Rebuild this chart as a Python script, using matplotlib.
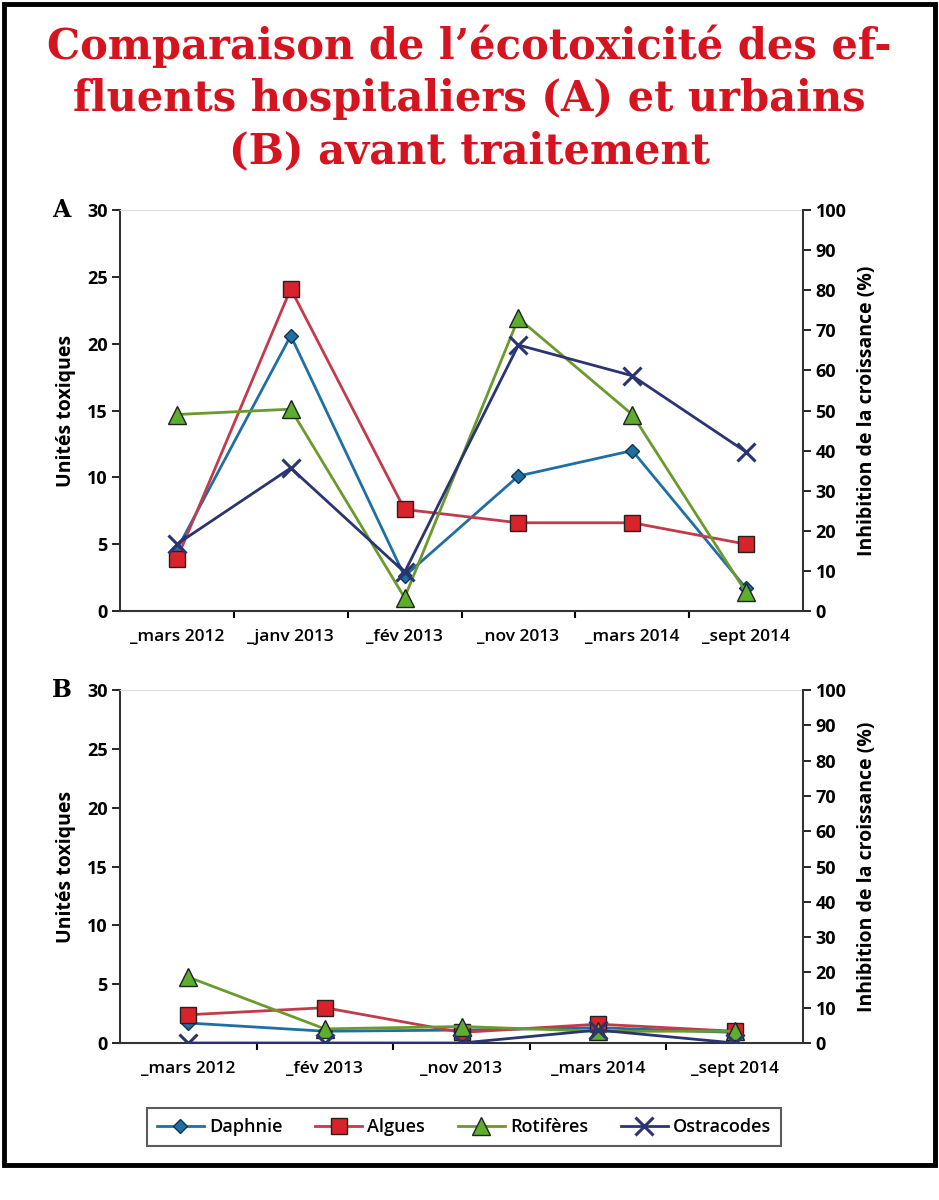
import numpy as np
import matplotlib.pyplot as plt
from matplotlib.patches import Rectangle

# categories
cats_a = ['_mars 2012', '_janv 2013', '_fév 2013', '_nov 2013', '_mars 2014', '_sept 2014']
cats_b = ['_mars 2012', '_fév 2013', '_nov 2013', '_mars 2014', '_sept 2014']

# (A) effluents hospitaliers - unités toxiques
daphnie_a = [4.6, 20.6, 2.6, 10.1, 12.0, 1.7]
algues_a = [3.9, 24.1, 7.6, 6.6, 6.6, 5.0]
rotiferes_a = [14.7, 15.1, 1.0, 21.9, 14.7, 1.4]
ostracodes_a = [5.0, 10.7, 2.9, 19.9, 17.6, 11.9]

# (B) effluents urbains
daphnie_b = [1.7, 1.0, 1.1, 1.3, 0.9]
algues_b = [2.4, 3.0, 0.9, 1.6, 1.0]
rotiferes_b = [5.6, 1.2, 1.4, 1.0, 1.0]
ostracodes_b = [0.0, 0.0, 0.0, 1.1, 0.0]

series_names = ['Daphnie', 'Algues', 'Rotifères', 'Ostracodes']

# styles
styles = {
    'Daphnie': dict(color='#1f6fa3', marker='D', ms=7, mfc='#1f6fa3', mec='#0d3552'),
    'Algues': dict(color='#c23b4c', marker='s', ms=11, mfc='#d8232a', mec='#222222'),
    'Rotifères': dict(color='#6b9a2c', marker='^', ms=13, mfc='#5cae2e', mec='#222222'),
    'Ostracodes': dict(color='#2b3472', marker='x', ms=13, mfc='#2b3472', mec='#2b3472', mew=2.2),
}

sans = ['Open Sans', 'DejaVu Sans']
serif = ['DejaVu Serif']
plt.rcParams['font.family'] = sans

fig = plt.figure(figsize=(9.39, 12), dpi=100)

# outer frame
fig.patches.append(Rectangle((0.004, 1 - 1165 / 1200), 0.992, 1163 / 1200 - 0.002,
                             transform=fig.transFigure, fill=False, lw=3.5,
                             ec='black', zorder=10))

fig.text(0.5, 1 - 24 / 1200, "Comparaison de l\u2019écotoxicité des ef-\nfluents hospitaliers (A) et urbains\n(B) avant traitement",
         ha='center', va='top', color='#d5141f', fontsize=30, fontweight='bold',
         family=serif, linespacing=1.32)


def draw_panel(rect, cats, data, letter):
    ax = fig.add_axes(rect)
    x = np.arange(len(cats))
    lines = []
    for name, vals in zip(series_names, data):
        st = dict(styles[name])
        ln, = ax.plot(x, vals, lw=2, label=name, zorder=3, **st)
        lines.append(ln)
    ax.set_xlim(-0.5, len(cats) - 0.5)
    ax.set_ylim(0, 30)
    ax.set_yticks(np.arange(0, 31, 5))
    ax.set_xticks(x)
    ax.set_xticklabels(cats, fontsize=12.5, fontweight='semibold')
    ax.set_xticks(np.arange(0.5, len(cats) - 0.5, 1), minor=True)
    ax.tick_params(axis='x', which='major', length=0, pad=13)
    ax.tick_params(axis='x', which='minor', length=5, width=1.5, direction='out')
    ax.tick_params(axis='y', length=6, width=1.2, labelsize=13, pad=3)
    for lab in ax.get_yticklabels():
        lab.set_fontweight('bold')
    for s in ['left', 'bottom']:
        ax.spines[s].set_linewidth(1.5)
        ax.spines[s].set_color('#333333')
    ax.spines['top'].set_color('#dddddd')
    ax.spines['right'].set_visible(False)
    ax.set_ylabel('Unités toxiques', fontsize=14, fontweight='bold', labelpad=8)

    ax2 = ax.twinx()
    ax2.set_ylim(0, 100)
    ax2.set_yticks(np.arange(0, 101, 10))
    ax2.tick_params(axis='y', length=6, width=1.2, labelsize=13, pad=3)
    for lab in ax2.get_yticklabels():
        lab.set_fontweight('bold')
    ax2.spines['right'].set_linewidth(1.5)
    ax2.spines['right'].set_color('#333333')
    for s in ['top', 'left', 'bottom']:
        ax2.spines[s].set_visible(False)
    ax2.set_ylabel('Inhibition de la croissance (%)', fontsize=14,
                   fontweight='bold', labelpad=8)

    ax.text(-0.1, 1.0, letter, transform=ax.transAxes, ha='left', va='center',
            fontsize=17, fontweight='bold', family=serif)
    return lines


lines = draw_panel([120 / 939, 1 - 611 / 1200, 683 / 939, 401 / 1200], cats_a,
                   [daphnie_a, algues_a, rotiferes_a, ostracodes_a], 'A')
draw_panel([120 / 939, 1 - 1043 / 1200, 683 / 939, 353 / 1200], cats_b,
           [daphnie_b, algues_b, rotiferes_b, ostracodes_b], 'B')

leg = fig.legend(handles=lines, loc='center', bbox_to_anchor=(464 / 939, 1 - 1127 / 1200),
                 ncol=4, frameon=True, fancybox=False, edgecolor='#333333',
                 handlelength=2.6, handletextpad=0.3, columnspacing=1.8, borderpad=0.55,
                 prop={'family': sans, 'size': 13, 'weight': 'semibold'})
leg.get_frame().set_linewidth(1.5)

fig.savefig('out.png', dpi=100)
